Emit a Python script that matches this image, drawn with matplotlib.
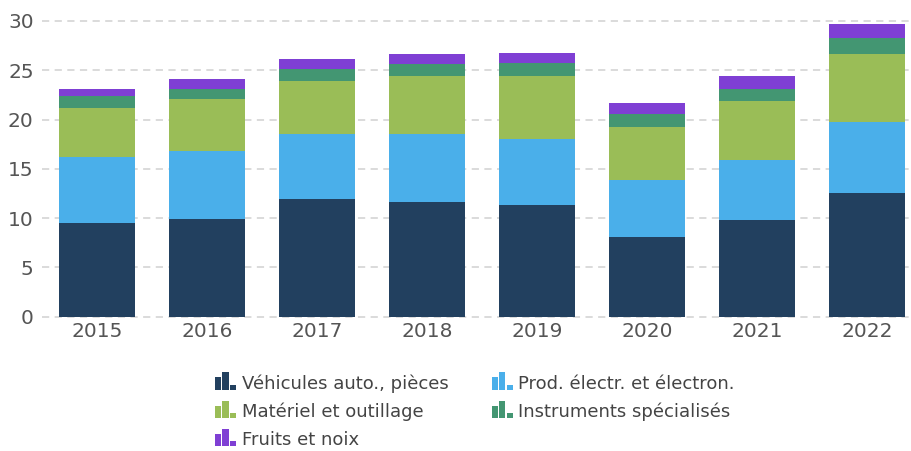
import matplotlib
matplotlib.use("Agg")
import matplotlib.pyplot as plt
from matplotlib.legend_handler import HandlerBase
from matplotlib.patches import Rectangle, Patch
import numpy as np

years = ["2015", "2016", "2017", "2018", "2019", "2020", "2021", "2022"]
series = ["Véhicules auto., pièces", "Prod. électr. et électron.",
          "Matériel et outillage", "Instruments spécialisés", "Fruits et noix"]
vehicules = [9.54, 9.9, 11.94, 11.63, 11.33, 8.08, 9.81, 12.55]
electro = [6.66, 6.9, 6.59, 6.9, 6.7, 5.79, 6.08, 7.2]
materiel = [4.97, 5.28, 5.37, 5.89, 6.39, 5.37, 5.99, 6.9]
instruments = [1.22, 1.02, 1.23, 1.21, 1.32, 1.32, 1.22, 1.62]
fruits = [0.71, 1.0, 1.01, 1.02, 1.01, 1.12, 1.32, 1.42]
colors = ["#22405f", "#4aafea", "#9abd57", "#439672", "#7f3fd4"]


class BarIcon(HandlerBase):
    # little "ıl," bar-chart icon
    def create_artists(self, legend, orig, xd, yd, w, h, fontsize, trans):
        c = orig.get_facecolor()
        bw = w / 3.4
        arts = []
        for i, f in enumerate([0.72, 1.0, 0.3]):
            r = Rectangle((xd + i * bw * 1.2, yd - h * 0.12), bw, h * 1.4 * f,
                          facecolor=c, edgecolor="none", transform=trans)
            arts.append(r)
        return arts


fig = plt.figure(figsize=(9.11, 4.51), dpi=100)
ax = fig.add_axes([42 / 911, 1 - 316.7 / 451, 869 / 911, 295.7 / 451])

x = np.arange(len(years))
data = [vehicules, electro, materiel, instruments, fruits]
bottom = np.zeros(len(years))
for vals, col, name in zip(data, colors, series):
    ax.bar(x, vals, width=0.69, bottom=bottom, color=col, label=name, zorder=3)
    bottom += np.array(vals)

ax.set_xlim(-0.5, 7.4)
ax.set_ylim(0, 30)
ax.set_yticks([0, 5, 10, 15, 20, 25, 30])
ax.set_xticks(x)
ax.set_xticklabels(years)
for yv in [0, 5, 10, 15, 20, 25, 30]:
    ax.axhline(yv, color="#d8d8d8", lw=1.3, ls=(0, (4, 3)), zorder=1, clip_on=False)
for s in ax.spines.values():
    s.set_visible(False)
ax.tick_params(length=0, labelsize=14.5, labelcolor="#555555", pad=6)
ax.tick_params(axis="x", pad=4)

# legend is filled column by column, so reorder to read row by row
order = [0, 2, 4, 1, 3]
handles = [Patch(facecolor=colors[i]) for i in order]
labels = [series[i] for i in order]
fig.legend(handles, labels, handler_map={Patch: BarIcon()}, ncol=2,
           loc="upper left", bbox_to_anchor=(206 / 911, 1 - 365 / 451),
           frameon=False, fontsize=13, labelcolor="#444444",
           handlelength=1.17, handletextpad=0.3, columnspacing=2.4,
           labelspacing=0.55, borderpad=0)

fig.savefig("out.png", dpi=100)
